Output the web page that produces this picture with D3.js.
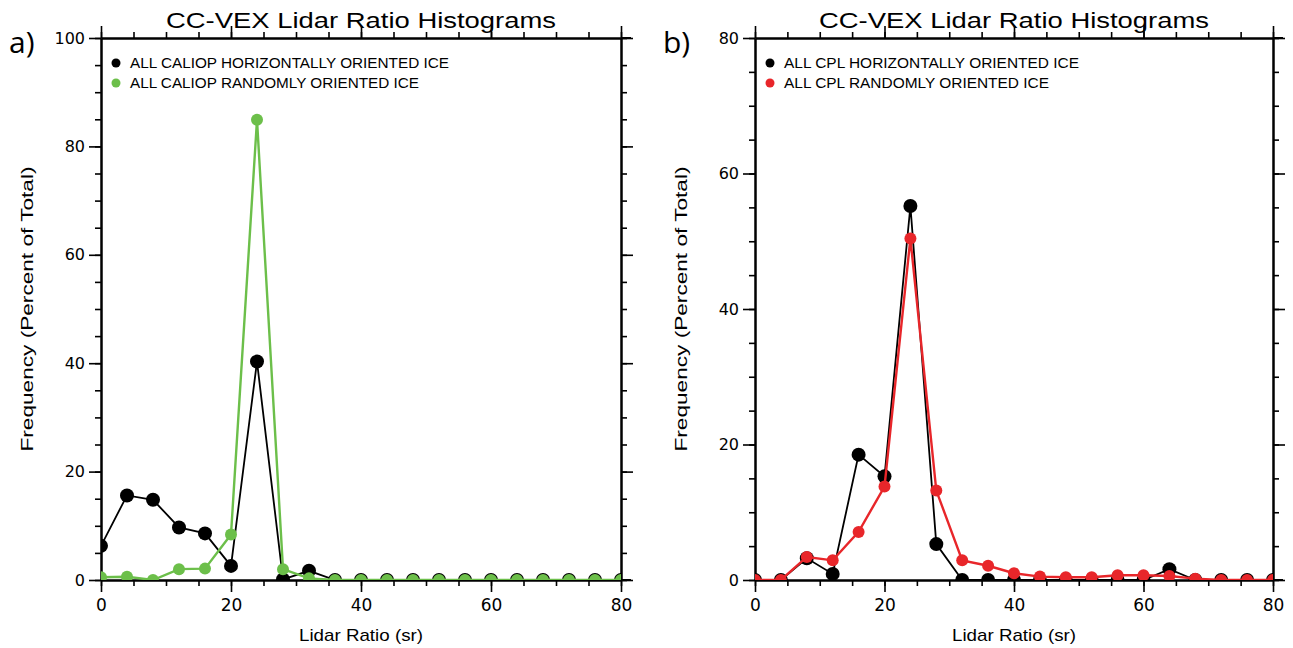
<!DOCTYPE html>
<html>
<head>
<meta charset="utf-8">
<script src="https://cdn.jsdelivr.net/npm/d3@7"></script>
<style>
  body { margin: 0; background: #fff; }
  svg { display: block; }
  text { font-family: "Liberation Sans", Arial, sans-serif; fill: #000; }
</style>
</head>
<body>
<svg id="chart" width="1293" height="648"></svg>
<script>
// lidar ratio bins (sr)
const lidarRatio = d3.range(0, 81, 4);

// panel a) CALIOP
const caliopHoriz = [6.3, 15.6, 14.8, 9.7, 8.6, 2.6, 40.3, 0.1, 1.7, 0, 0, 0, 0, 0, 0, 0, 0, 0, 0, 0, 0];
const caliopRandom = [0.5, 0.6, 0, 2.0, 2.1, 8.4, 84.9, 2.0, 0.3, 0, 0, 0, 0, 0, 0, 0, 0, 0, 0, 0, 0];

// panel b) CPL
const cplHoriz = [0, 0, 3.2, 0.9, 18.5, 15.3, 55.2, 5.3, 0, 0, 0, 0, 0, 0, 0, 0, 1.6, 0, 0, 0, 0];
const cplRandom = [0, 0, 3.4, 2.9, 7.1, 13.8, 50.4, 13.2, 2.9, 2.1, 1.0, 0.5, 0.4, 0.4, 0.7, 0.7, 0.6, 0.2, 0, 0, 0];

const xTicks = [0, 20, 40, 60, 80];
const yTicksA = [0, 20, 40, 60, 80, 100];
const yTicksB = [0, 20, 40, 60, 80];

const title = "CC-VEX Lidar Ratio Histograms";
const xTitle = "Lidar Ratio (sr)";
const yTitle = "Frequency (Percent of Total)";

const svg = d3.select("#chart");

function drawPanel(cfg) {
  const g = svg.append("g");
  const x = d3.scaleLinear().domain([0, 80]).range([cfg.left, cfg.right]);
  const y = d3.scaleLinear().domain([0, cfg.ymax]).range([cfg.bottom, cfg.top]);

  // minor ticks every 5
  const minor = d3.range(0, 81, 5);
  const minorY = d3.range(0, cfg.ymax + 1, 5);
  const axes = [
    [d3.axisBottom(x), "translate(0," + cfg.bottom + ")", true],
    [d3.axisTop(x), "translate(0," + cfg.top + ")", false],
  ];
  axes.forEach(([ax, tr, lab]) => {
    g.append("g").attr("transform", tr)
      .call(ax.tickValues(minor).tickSize(6).tickSizeOuter(0).tickFormat(""));
    const major = g.append("g").attr("transform", tr)
      .call(ax.tickValues(xTicks).tickSize(12).tickSizeOuter(0)
        .tickFormat(lab ? d3.format("d") : ""));
    major.selectAll("text").attr("dy", "0.71em").attr("y", 19)
      .style("font-size", "17px").style("font-family", "DejaVu Sans");
  });
  const yaxes = [
    [d3.axisLeft(y), "translate(" + cfg.left + ",0)", true],
    [d3.axisRight(y), "translate(" + cfg.right + ",0)", false],
  ];
  yaxes.forEach(([ax, tr, lab]) => {
    g.append("g").attr("transform", tr)
      .call(ax.tickValues(minorY).tickSize(6).tickSizeOuter(0).tickFormat(""));
    const major = g.append("g").attr("transform", tr)
      .call(ax.tickValues(cfg.yTicks).tickSize(12).tickSizeOuter(0)
        .tickFormat(lab ? d3.format("d") : ""));
    major.selectAll("text").attr("x", -16)
      .style("font-size", "16px").style("font-family", "DejaVu Sans");
  });
  g.selectAll(".domain").attr("stroke", "#000").attr("stroke-width", 2);
  g.selectAll(".tick line").attr("stroke", "#000").attr("stroke-width", 1.6);

  // axis extensions past the corners
  g.append("line").attr("x1", cfg.right).attr("x2", cfg.right + 10)
    .attr("y1", cfg.top).attr("y2", cfg.top).attr("stroke", "#000").attr("stroke-width", 2);
  g.append("line").attr("x1", cfg.right).attr("x2", cfg.right + 10)
    .attr("y1", cfg.bottom).attr("y2", cfg.bottom).attr("stroke", "#000").attr("stroke-width", 2);

  // titles
  g.append("text").attr("x", (cfg.left + cfg.right) / 2).attr("y", 28)
    .attr("text-anchor", "middle").style("font-size", "22px")
    .attr("textLength", 390).attr("lengthAdjust", "spacingAndGlyphs").text(title);
  g.append("text").attr("x", (cfg.left + cfg.right) / 2).attr("y", 641)
    .attr("text-anchor", "middle").style("font-size", "17px")
    .attr("textLength", 124).attr("lengthAdjust", "spacingAndGlyphs").text(xTitle);
  g.append("text")
    .attr("transform", "translate(" + (cfg.left - 68) + "," + ((cfg.top + cfg.bottom) / 2) + ") rotate(-90)")
    .attr("text-anchor", "middle").style("font-size", "17px")
    .attr("textLength", 285).attr("lengthAdjust", "spacingAndGlyphs").text(yTitle);
  g.append("text").attr("x", cfg.left - 92).attr("y", 53)
    .style("font-size", "30px").style("font-family", "Open Sans").text(cfg.tag);

  // data
  const clipId = "clip-" + cfg.tag.replace(")", "");
  svg.append("clipPath").attr("id", clipId).append("rect")
    .attr("x", cfg.left).attr("y", cfg.top)
    .attr("width", cfg.right - cfg.left).attr("height", cfg.bottom - cfg.top);
  const plot = g.append("g").attr("clip-path", "url(#" + clipId + ")");
  const line = d3.line().x(d => x(d[0])).y(d => y(d[1]));
  cfg.series.forEach(s => {
    const pts = lidarRatio.map((r, i) => [r, s.values[i]]);
    plot.append("path").datum(pts).attr("d", line)
      .attr("fill", "none").attr("stroke", s.color).attr("stroke-width", s.width);
    plot.selectAll(null).data(pts).enter().append("circle")
      .attr("cx", d => x(d[0])).attr("cy", d => y(d[1]))
      .attr("r", s.r).attr("fill", s.color);
  });

  // legend
  cfg.series.forEach((s, i) => {
    const ly = 63 + i * 20;
    g.append("circle").attr("cx", cfg.left + 15).attr("cy", ly).attr("r", 4.5).attr("fill", s.color);
    g.append("text").attr("x", cfg.left + 29).attr("y", ly + 5)
      .style("font-size", "14px")
      .attr("textLength", s.legendLen).attr("lengthAdjust", "spacingAndGlyphs")
      .text(s.label);
  });
}

drawPanel({
  tag: "a)", left: 101, right: 621, top: 38, bottom: 580, ymax: 100, yTicks: yTicksA,
  series: [
    { label: "ALL CALIOP HORIZONTALLY ORIENTED ICE", values: caliopHoriz, color: "#000", width: 1.8, r: 7, legendLen: 319 },
    { label: "ALL CALIOP RANDOMLY ORIENTED ICE", values: caliopRandom, color: "#6cbf4a", width: 2.4, r: 6, legendLen: 289 }
  ]
});

drawPanel({
  tag: "b)", left: 755, right: 1273, top: 38, bottom: 580, ymax: 80, yTicks: yTicksB,
  series: [
    { label: "ALL CPL HORIZONTALLY ORIENTED ICE", values: cplHoriz, color: "#000", width: 1.8, r: 7, legendLen: 295 },
    { label: "ALL CPL RANDOMLY ORIENTED ICE", values: cplRandom, color: "#e8262a", width: 2.4, r: 6, legendLen: 265 }
  ]
});
</script>
</body>
</html>
